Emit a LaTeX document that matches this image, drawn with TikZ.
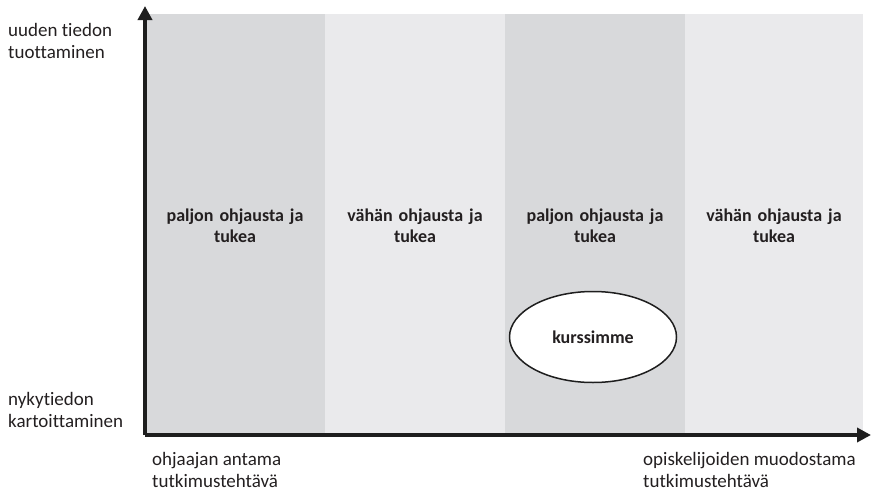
\documentclass[tikz,border=0pt]{standalone}
\usepackage{fontspec}
\setmainfont{Carlito}[Ligatures=NoCommon]
\usetikzlibrary{arrows.meta,shapes.geometric}
\definecolor{DarkCol}{RGB}{216,217,219}
\definecolor{LightCol}{RGB}{234,234,236}
\definecolor{AxisCol}{RGB}{30,30,30}
\definecolor{TextCol}{RGB}{35,31,32}
\tikzset{
  column/.style={fill=#1,minimum height=420pt,minimum width=180pt,inner sep=0pt},
  collabel/.style={text=TextCol,text width=178pt,align=center,anchor=base,font=\fontsize{18}{21}\selectfont\bfseries},
  axislabel/.style={text=TextCol,anchor=base west,align=left,inner sep=0pt,font=\fontsize{19}{22}\selectfont},
  axis/.style={-{Triangle[length=14pt,width=14pt]},line width=4pt,draw=AxisCol}
}

\begin{document}
\begin{tikzpicture}[x=1pt,y=-1pt]
\useasboundingbox (0,0) rectangle (873,490);

\node[column=DarkCol] (col1) at (235,224) {};
\node[column=LightCol] (col2) at (415,224) {};
\node[column=DarkCol] (col3) at (595,224) {};
\node[column=LightCol,minimum width=178pt] (col4) at (774,224) {};

\node[collabel] (lab1) at (235,221) {paljon ohjausta ja\\tukea};
\node[collabel] (lab2) at (415,221) {vähän ohjausta ja\\tukea};
\node[collabel] (lab3) at (595,221) {paljon ohjausta ja\\tukea};
\node[collabel] (lab4) at (774,221) {vähän ohjausta ja\\tukea};

\node[ellipse,draw=AxisCol,line width=1.5pt,fill=white,minimum width=167pt,minimum height=91pt,
      font=\fontsize{18}{20}\selectfont\bfseries,text=TextCol] (course) at (593,337) {kurssimme};

\coordinate (origin) at (145,435);
\coordinate (ytip) at (145,6);
\coordinate (xtip) at (871,435);
\draw[axis] (origin) to (ytip);
\draw[axis] (origin) to (xtip);

% base anchor sits on the second line here
\node[axislabel] (ytop) at (8,58) {uuden tiedon\\tuottaminen};
\node[axislabel] (ybot) at (8,427) {nykytiedon\\kartoittaminen};
\node[axislabel] (xleft) at (152,487) {ohjaajan antama\\tutkimustehtävä};
\node[axislabel] (xright) at (643,487) {opiskelijoiden muodostama\\tutkimustehtävä};

\end{tikzpicture}
\end{document}
